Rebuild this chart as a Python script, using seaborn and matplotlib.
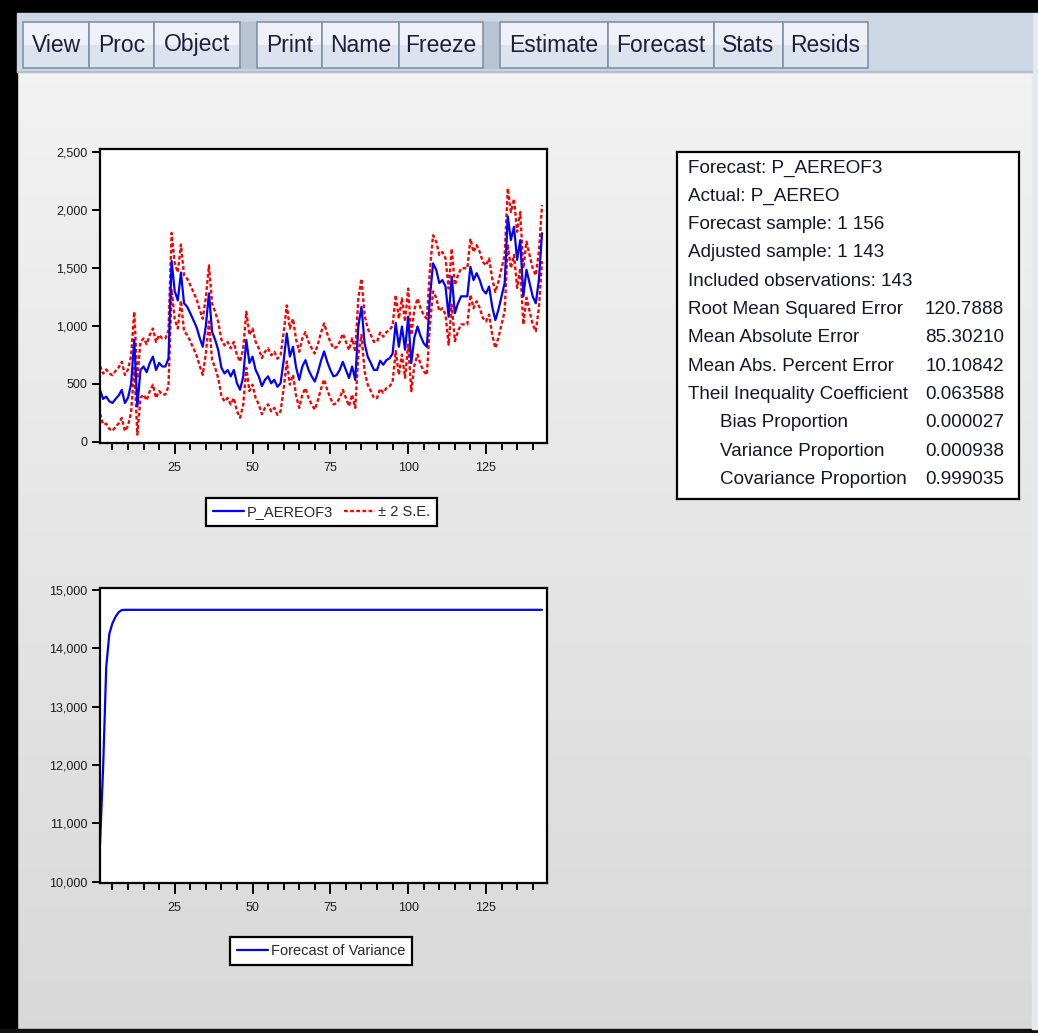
# EViews forecast window: forecast with +/-2 S.E. bands, variance forecast and the
# forecast evaluation table, redrawn with seaborn / matplotlib.
import numpy as np
import pandas as pd
import matplotlib
matplotlib.use("Agg")
import matplotlib.pyplot as plt
from matplotlib.patches import Rectangle
from matplotlib.lines import Line2D
from matplotlib.ticker import FuncFormatter, MultipleLocator
import seaborn as sns

# ---- data ----
obs = list(range(1, 144))

forecast = [
    448, 370, 390, 350, 335, 370, 400, 448, 335, 380,
    500, 880, 305, 620, 650, 600, 680, 735, 620, 680,
    650, 650, 720, 1560, 1300, 1220, 1460, 1195, 1165, 1110,
    1050, 990, 900, 820, 1000, 1280, 950, 880, 790, 640,
    590, 620, 565, 620, 505, 450, 560, 880, 680, 735,
    620, 565, 480, 535, 565, 505, 535, 475, 505, 700,
    935, 735, 820, 640, 535, 650, 705, 620, 565, 520,
    600, 700, 780, 690, 620, 565, 575, 620, 690, 620,
    550, 650, 535, 1000, 1165, 850, 735, 680, 620, 620,
    700, 665, 705, 720, 760, 1025, 820, 995, 795, 1080,
    680, 900, 995, 910, 850, 820, 1250, 1540, 1485, 1370,
    1395, 1340, 1080, 1425, 1110, 1195, 1255, 1255, 1255, 1510,
    1395, 1455, 1395, 1310, 1280, 1340, 1165, 1050, 1140, 1255,
    1370, 1945, 1740, 1855, 1570, 1740, 1255, 1485, 1370, 1255,
    1195, 1400, 1800,
]

upper_2se = [
    654, 589, 624, 589, 575, 611, 642, 690, 577, 622,
    742, 1122, 547, 862, 892, 842, 922, 977, 862, 922,
    892, 892, 962, 1802, 1542, 1462, 1702, 1437, 1407, 1352,
    1292, 1232, 1142, 1062, 1242, 1522, 1192, 1122, 1032, 882,
    832, 862, 807, 862, 747, 692, 802, 1122, 922, 977,
    862, 807, 722, 777, 807, 747, 777, 717, 747, 942,
    1177, 977, 1062, 882, 777, 892, 947, 862, 807, 762,
    842, 942, 1022, 932, 862, 807, 817, 862, 932, 862,
    792, 892, 777, 1242, 1407, 1092, 977, 922, 862, 862,
    942, 907, 947, 962, 1002, 1267, 1062, 1237, 1037, 1322,
    922, 1142, 1237, 1152, 1092, 1062, 1492, 1782, 1727, 1612,
    1637, 1582, 1322, 1667, 1352, 1437, 1497, 1497, 1497, 1752,
    1637, 1697, 1637, 1552, 1522, 1582, 1407, 1292, 1382, 1497,
    1612, 2187, 1982, 2097, 1812, 1982, 1497, 1727, 1612, 1497,
    1437, 1642, 2042,
]

lower_2se = [
    242, 151, 156, 111, 95, 129, 158, 206, 93, 138,
    258, 638, 63, 378, 408, 358, 438, 493, 378, 438,
    408, 408, 478, 1318, 1058, 978, 1218, 953, 923, 868,
    808, 748, 658, 578, 758, 1038, 708, 638, 548, 398,
    348, 378, 323, 378, 263, 208, 318, 638, 438, 493,
    378, 323, 238, 293, 323, 263, 293, 233, 263, 458,
    693, 493, 578, 398, 293, 408, 463, 378, 323, 278,
    358, 458, 538, 448, 378, 323, 333, 378, 448, 378,
    308, 408, 293, 758, 923, 608, 493, 438, 378, 378,
    458, 423, 463, 478, 518, 783, 578, 753, 553, 838,
    438, 658, 753, 668, 608, 578, 1008, 1298, 1243, 1128,
    1153, 1098, 838, 1183, 868, 953, 1013, 1013, 1013, 1268,
    1153, 1213, 1153, 1068, 1038, 1098, 923, 808, 898, 1013,
    1128, 1703, 1498, 1613, 1328, 1498, 1013, 1243, 1128, 1013,
    953, 1158, 1558,
]

variance = [10640, 11950, 13680, 14250, 14430, 14540, 14620, 14655] + [14660] * 135

stat_labels = [
    "Forecast: P_AEREOF3",
    "Actual: P_AEREO",
    "Forecast sample: 1 156",
    "Adjusted sample: 1 143",
    "Included observations: 143",
    "Root Mean Squared Error",
    "Mean Absolute Error",
    "Mean Abs. Percent Error",
    "Theil Inequality Coefficient",
    "Bias Proportion",
    "Variance Proportion",
    "Covariance Proportion",
]
stat_values = ["", "", "", "", "", "120.7888", "85.30210", "10.10842",
               "0.063588", "0.000027", "0.000938", "0.999035"]
stat_indented = [False] * 9 + [True] * 3

toolbar_buttons = ["View", "Proc", "Object", "Print", "Name", "Freeze",
                   "Estimate", "Forecast", "Stats", "Resids"]

# ---- layout (pixels of the 1038x1033 window) ----
W, H = 1038, 1033
button_spans = [(23, 89), (89, 154), (154, 240), (257, 322), (322, 399),
                (399, 483), (500, 608), (608, 714), (714, 783), (783, 868)]

BLUE = "#0000ff"
RED = "#ff0000"
DOTS = (0, (1.6, 1.0))

sns.set_theme(style="white")
plt.rcParams["font.family"] = ["Liberation Sans", "DejaVu Sans"]

fig = plt.figure(figsize=(W / 100, H / 100), dpi=100)


def frac(x0, y0, x1, y1):
    return [x0 / W, 1 - y1 / H, (x1 - x0) / W, (y1 - y0) / H]


# window chrome drawn in pixel coordinates
bg = fig.add_axes([0, 0, 1, 1])
shade = np.linspace(0.95, 0.85, 256)
grad = np.dstack([shade, shade, shade]).reshape(256, 1, 3)
bg.imshow(grad, extent=[17, 1032, 1029, 72], aspect="auto", interpolation="bilinear")
bg.add_patch(Rectangle((0, 0), W, 13, color="black"))
bg.add_patch(Rectangle((0, 0), 17, H, color="black"))
bg.add_patch(Rectangle((0, 1029), W, 4, color="#111111"))
bg.add_patch(Rectangle((1032, 13), 6, 1016, color="#e4eaf3"))
bg.add_patch(Rectangle((17, 13), 1015, 59, color="#cdd6e3"))
bg.add_patch(Rectangle((17, 71), 1015, 1, color="#b4bece"))
for sx in (240, 483):
    bg.add_patch(Rectangle((sx, 22), 17, 46, color="#b8c3d3"))
for (x0, x1), name in zip(button_spans, toolbar_buttons):
    bg.add_patch(Rectangle((x0, 22), x1 - x0, 23, color="#eef2f8", lw=0))
    bg.add_patch(Rectangle((x0, 45), x1 - x0, 23, color="#dbe3ee", lw=0))
    bg.add_patch(Rectangle((x0, 22), x1 - x0, 46, fill=False, ec="#8391a7", lw=1.2))
    bg.text((x0 + x1) / 2, 45, name, ha="center", va="center",
            fontsize=16.5, color="#1e1e3c")
bg.set_xlim(0, W)
bg.set_ylim(H, 0)
bg.axis("off")

df = pd.DataFrame({"obs": obs, "forecast": forecast, "upper": upper_2se,
                   "lower": lower_2se, "variance": variance})


def eviews_axes(ax, ylim, ystep):
    ax.set_facecolor("white")
    ax.set_xlim(1, 144.6)
    ax.set_ylim(*ylim)
    ax.xaxis.set_major_locator(MultipleLocator(25))
    ax.xaxis.set_minor_locator(MultipleLocator(5))
    ax.yaxis.set_major_locator(MultipleLocator(ystep))
    ax.yaxis.set_major_formatter(FuncFormatter(lambda v, p: f"{v:,.0f}"))
    ax.set_xlabel("")
    ax.set_ylabel("")
    ax.grid(False)
    for s in ax.spines.values():
        s.set_visible(True)
        s.set_color("black")
        s.set_linewidth(1.6)
    ax.tick_params(axis="both", which="both", direction="out", color="black",
                   width=1.4, labelsize=9, labelcolor="#1c1c1c",
                   bottom=True, left=True)
    ax.tick_params(axis="x", which="major", length=8, pad=6)
    ax.tick_params(axis="x", which="minor", length=5)
    ax.tick_params(axis="y", which="major", length=6, pad=3)


# top: forecast and bands
ax1 = fig.add_axes(frac(100, 149, 547, 443))
sns.lineplot(data=df, x="obs", y="upper", ax=ax1, color=RED, lw=1.7, linestyle=DOTS)
sns.lineplot(data=df, x="obs", y="lower", ax=ax1, color=RED, lw=1.7, linestyle=DOTS)
sns.lineplot(data=df, x="obs", y="forecast", ax=ax1, color=BLUE, lw=1.6)
eviews_axes(ax1, (-10, 2526), 500)

# bottom: forecast of variance
ax2 = fig.add_axes(frac(100, 588, 547, 883))
sns.lineplot(data=df, x="obs", y="variance", ax=ax2, color=BLUE, lw=1.6)
eviews_axes(ax2, (9978, 15034), 1000)

leg_kw = dict(loc="center", frameon=True, fancybox=False, edgecolor="black",
              facecolor="white", framealpha=1, fontsize=10.5, handlelength=2.1,
              handletextpad=0.2, columnspacing=0.8, borderpad=0.45)
leg1 = fig.legend(handles=[Line2D([], [], color=BLUE, lw=1.6),
                           Line2D([], [], color=RED, lw=1.7, linestyle=DOTS)],
                  labels=["P_AEREOF3", "± 2 S.E."], ncol=2,
                  bbox_to_anchor=(321.5 / W, 1 - 512 / H), **leg_kw)
leg1.get_frame().set_linewidth(1.6)
leg2 = fig.legend(handles=[Line2D([], [], color=BLUE, lw=1.6)],
                  labels=["Forecast of Variance"],
                  bbox_to_anchor=(321 / W, 1 - 951 / H), **leg_kw)
leg2.get_frame().set_linewidth(1.6)

# forecast evaluation table
axs = fig.add_axes(frac(677, 152, 1019, 499))
axs.set_facecolor("white")
axs.set_xlim(677, 1019)
axs.set_ylim(499, 152)
axs.set_xticks([])
axs.set_yticks([])
for s in axs.spines.values():
    s.set_visible(True)
    s.set_color("black")
    s.set_linewidth(1.6)
for k, (lab, val, ind) in enumerate(zip(stat_labels, stat_values, stat_indented)):
    y = 168 + 28.3 * k
    axs.text(720 if ind else 688, y, lab, ha="left", va="center",
             fontsize=13.6, color="#15152a")
    if val:
        axs.text(1004, y, val, ha="right", va="center", fontsize=13.6, color="#15152a")

fig.savefig("out.png", dpi=100)
